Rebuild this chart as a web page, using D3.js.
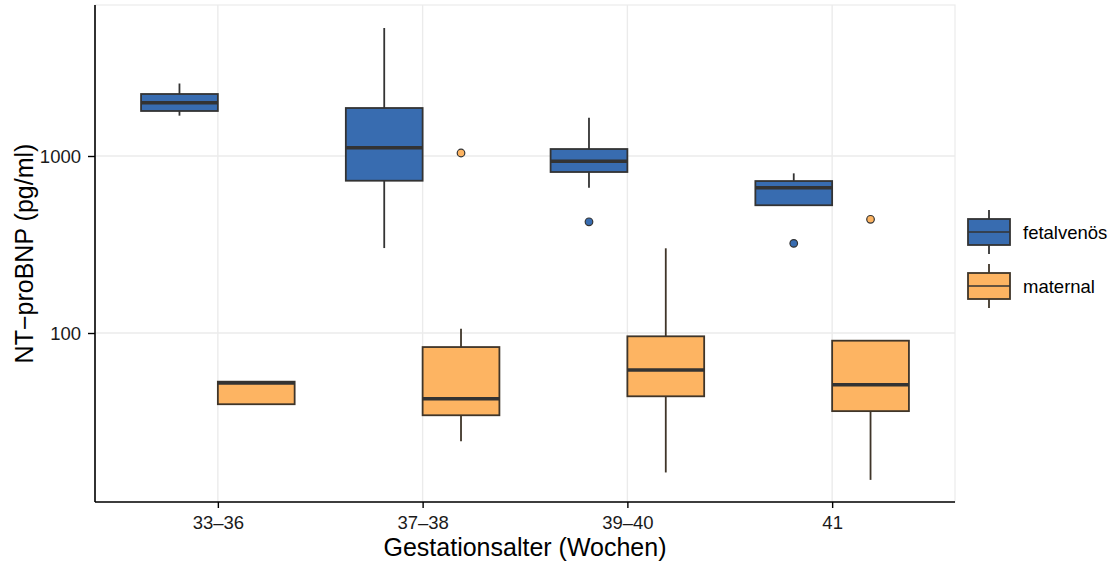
<!DOCTYPE html>
<html>
<head>
<meta charset="utf-8">
<script src="https://cdn.jsdelivr.net/npm/d3@7"></script>
<style>
  html, body { margin: 0; padding: 0; background: #fff; }
  svg { display: block; font-family: "Liberation Sans", Arial, Helvetica, sans-serif; }
</style>
</head>
<body>
<svg id="chart" width="1115" height="562"></svg>
<script>
// Gestational age groups and sample types
const categories = ["33\u201336", "37\u201338", "39\u201340", "41"];
const groups = ["fetalvenös", "maternal"];

// Box statistics per group (pg/ml), one entry per category
const fetalMin    = [1690, 302, 662, 522];
const fetalQ1     = [1796, 725, 812, 527];
const fetalMedian = [2000, 1114, 934, 662];
const fetalQ3     = [2240, 1867, 1095, 722];
const fetalMax    = [2568, 5287, 1646, 798];
const fetalOutliers = [[], [], [425], [321]];

const maternalMin    = [39.6, 24.5, 16.3, 14.8];
const maternalQ1     = [39.6, 34.3, 43.9, 36.2];
const maternalMedian = [52.2, 42.5, 61.8, 51.0];
const maternalQ3     = [53.1, 83.3, 95.8, 90.5];
const maternalMax    = [53.1, 105.7, 301, 90.5];
const maternalOutliers = [[], [1040], [], [439]];

const yTicks = [100, 1000];
const yTickLabels = ["100", "1000"];

const fillColors = { "fetalvenös": "#386cb0", "maternal": "#fdb462" };
const lineColors = { "fetalvenös": "#333333", "maternal": "#3f3529" };

// Build one record per box from the arrays above
const boxes = [];
categories.forEach((c, i) => {
  boxes.push({ cat: c, group: "fetalvenös", min: fetalMin[i], q1: fetalQ1[i], med: fetalMedian[i], q3: fetalQ3[i], max: fetalMax[i], out: fetalOutliers[i] });
  boxes.push({ cat: c, group: "maternal", min: maternalMin[i], q1: maternalQ1[i], med: maternalMedian[i], q3: maternalQ3[i], max: maternalMax[i], out: maternalOutliers[i] });
});

const svg = d3.select("#chart");
const panel = { left: 95, right: 955, top: 5, bottom: 502 };

const x = d3.scalePoint().domain(categories).range([panel.left, panel.right]).padding(0.6);
const step = x.step();
const xg = d3.scaleBand().domain(groups).range([-0.375 * step, 0.375 * step]);
const y = d3.scaleLog().domain([11.1, 7130]).range([panel.bottom, panel.top]);

// Panel frame and grid
svg.append("rect")
  .attr("x", panel.left).attr("y", panel.top)
  .attr("width", panel.right - panel.left).attr("height", panel.bottom - panel.top)
  .attr("fill", "#fff").attr("stroke", "#ebebeb").attr("stroke-width", 1.2);

const grid = svg.append("g");
grid.selectAll("line.vg").data(categories).join("line")
  .attr("x1", d => x(d)).attr("x2", d => x(d))
  .attr("y1", panel.top).attr("y2", panel.bottom)
  .attr("stroke", "#ebebeb").attr("stroke-width", 1.4);
grid.selectAll("line.hg").data(yTicks).join("line")
  .attr("x1", panel.left).attr("x2", panel.right)
  .attr("y1", d => y(d)).attr("y2", d => y(d))
  .attr("stroke", "#ebebeb").attr("stroke-width", 1.4);

// Boxplots
const bw = xg.bandwidth();
const bg = svg.append("g").selectAll("g").data(boxes).join("g")
  .attr("transform", d => `translate(${x(d.cat) + xg(d.group)},0)`);

bg.append("line")
  .attr("x1", bw / 2).attr("x2", bw / 2)
  .attr("y1", d => y(d.max)).attr("y2", d => y(d.q3))
  .attr("stroke", d => lineColors[d.group]).attr("stroke-width", 1.8);
bg.append("line")
  .attr("x1", bw / 2).attr("x2", bw / 2)
  .attr("y1", d => y(d.q1)).attr("y2", d => y(d.min))
  .attr("stroke", d => lineColors[d.group]).attr("stroke-width", 1.8);
bg.append("rect")
  .attr("x", 0).attr("width", bw)
  .attr("y", d => y(d.q3)).attr("height", d => y(d.q1) - y(d.q3))
  .attr("fill", d => fillColors[d.group])
  .attr("stroke", d => lineColors[d.group]).attr("stroke-width", 1.8);
bg.append("line")
  .attr("x1", 0).attr("x2", bw)
  .attr("y1", d => y(d.med)).attr("y2", d => y(d.med))
  .attr("stroke", "#333333").attr("stroke-width", 3.4);
bg.selectAll("circle").data(d => d.out.map(v => ({ v, group: d.group }))).join("circle")
  .attr("cx", bw / 2).attr("cy", d => y(d.v)).attr("r", 3.8)
  .attr("fill", d => fillColors[d.group])
  .attr("stroke", "#333333").attr("stroke-width", 1.2);

// Axes
const xAxis = svg.append("g").attr("transform", `translate(0,${panel.bottom})`)
  .call(d3.axisBottom(x).tickSize(6));
const yAxis = svg.append("g").attr("transform", `translate(${panel.left},0)`)
  .call(d3.axisLeft(y).tickValues(yTicks).tickFormat((d, i) => yTickLabels[i]).tickSize(7));
[xAxis, yAxis].forEach(a => {
  a.select(".domain").attr("stroke", "#000").attr("stroke-width", 1.6);
  a.selectAll(".tick line").attr("stroke", "#000").attr("stroke-width", 1.4);
  a.selectAll(".tick text").attr("fill", "#1a1a1a").attr("font-size", 18.5)
    .attr("font-family", "Liberation Sans, Arial, sans-serif");
});
xAxis.selectAll(".tick text").attr("y", 27).attr("dy", 0);
yAxis.selectAll(".tick text").attr("x", -14).attr("dy", "0.36em");
xAxis.select(".domain").attr("d", `M${panel.left},0H${panel.right}`);
yAxis.select(".domain").attr("d", `M0,${panel.bottom}V${panel.top}`);

// Axis titles
svg.append("text")
  .attr("x", (panel.left + panel.right) / 2).attr("y", 556)
  .attr("text-anchor", "middle").attr("font-size", 25).attr("fill", "#000")
  .text("Gestationsalter (Wochen)");
svg.append("text")
  .attr("transform", `translate(33,${(panel.top + panel.bottom) / 2}) rotate(-90)`)
  .attr("text-anchor", "middle").attr("font-size", 25).attr("fill", "#000")
  .text("NT\u2212proBNP (pg/ml)");

// Legend
const legend = svg.append("g").attr("transform", "translate(956,186)");
legend.append("rect").attr("x", 0).attr("y", 0).attr("width", 159).attr("height", 132).attr("fill", "#fff");
const keyX = 12, keyW = 42;
const items = legend.selectAll("g.item").data(groups).join("g")
  .attr("transform", (d, i) => `translate(0,${24 + i * 54})`);
items.append("line")
  .attr("x1", keyX + keyW / 2).attr("x2", keyX + keyW / 2)
  .attr("y1", 0).attr("y2", 44)
  .attr("stroke", d => lineColors[d]).attr("stroke-width", 1.8);
items.append("rect")
  .attr("x", keyX).attr("y", 9).attr("width", keyW).attr("height", 26)
  .attr("fill", d => fillColors[d])
  .attr("stroke", d => lineColors[d]).attr("stroke-width", 1.8);
items.append("line")
  .attr("x1", keyX).attr("x2", keyX + keyW)
  .attr("y1", 22).attr("y2", 22)
  .attr("stroke", "#333333").attr("stroke-width", 1.5);
items.append("text")
  .attr("x", 67).attr("y", 22).attr("dy", "0.36em")
  .attr("font-size", 18.5).attr("fill", "#000")
  .text(d => d);
</script>
</body>
</html>
